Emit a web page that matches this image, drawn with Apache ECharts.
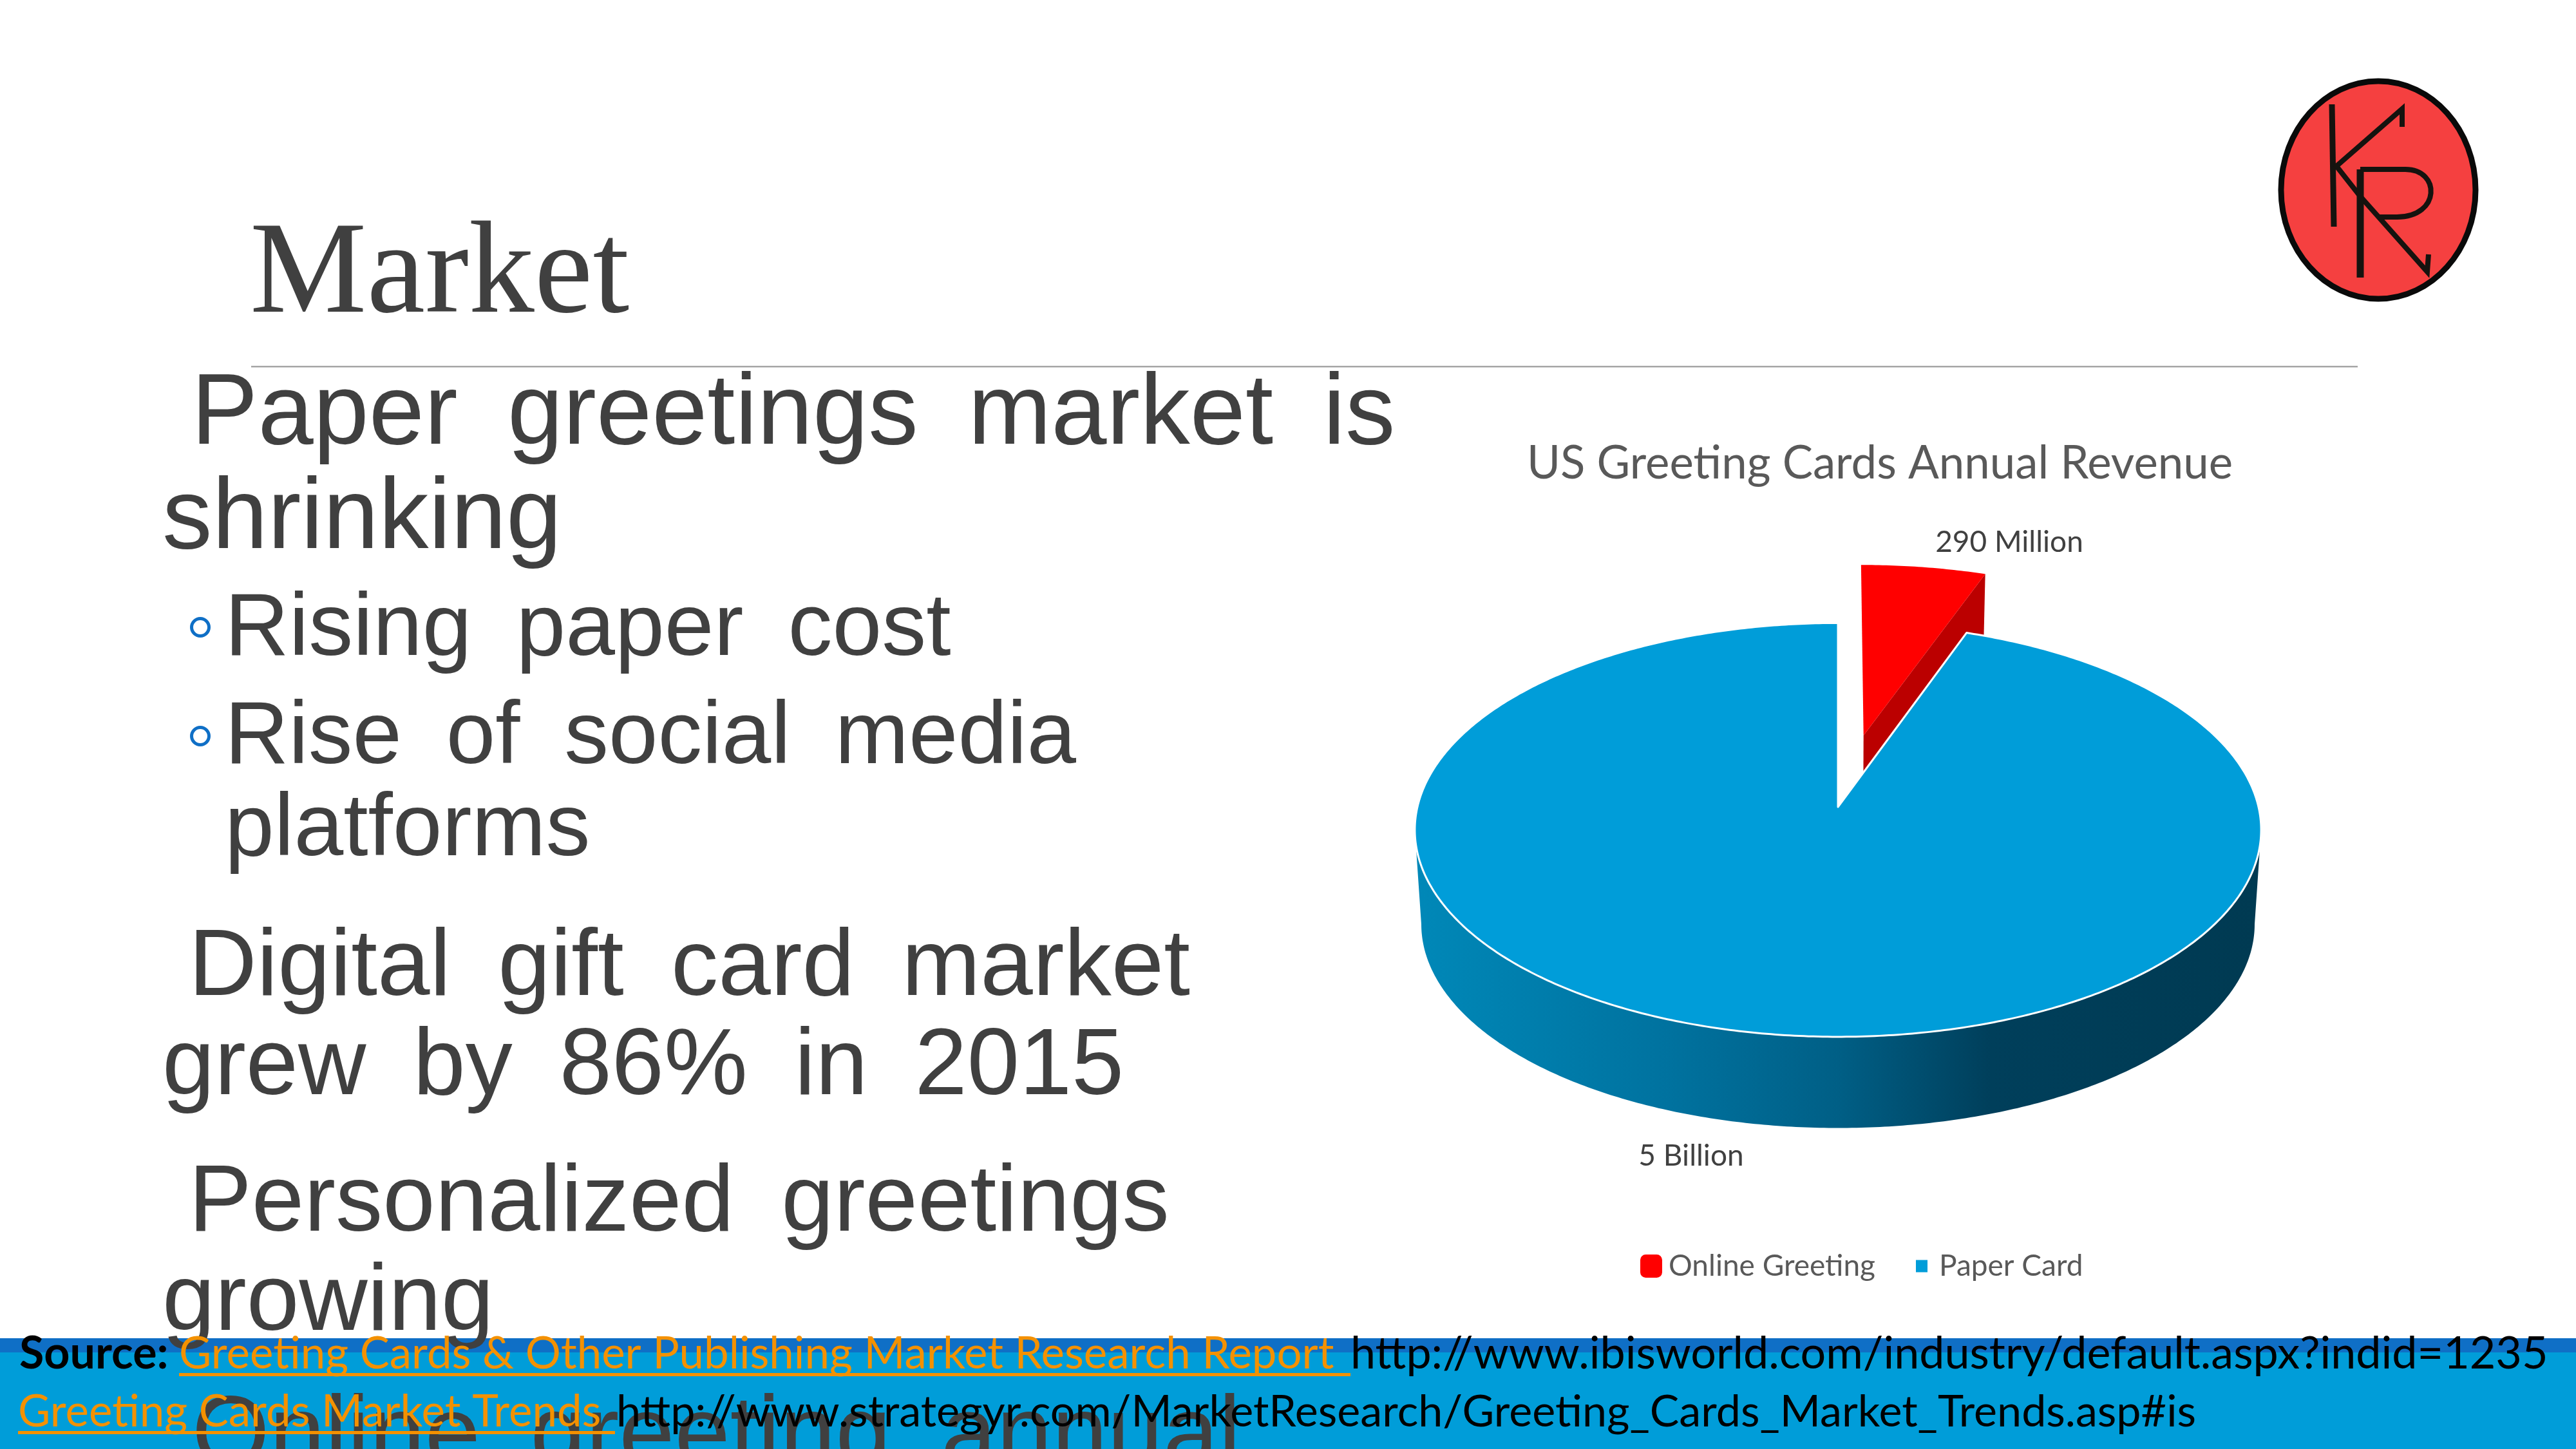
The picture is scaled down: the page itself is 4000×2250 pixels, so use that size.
<!DOCTYPE html>
<html><head><meta charset="utf-8">
<style>html,body{margin:0;padding:0;background:#fff}#c{width:4000px;height:2250px}</style>
<script src="https://cdn.jsdelivr.net/npm/echarts@6/dist/echarts.min.js"></script>
</head><body><div id="c"></div>
<script>
// ---- data ----
const categories = ['Online Greeting', 'Paper Card'];
const revenueMillions = [290, 5000];
const dataLabels = ['290 Million', '5 Billion'];
const chartTitle = 'US Greeting Cards Annual Revenue';
const slideTitle = 'Market';
const EN = '\u2002';
const bodyLinesLarge = ['Paper greetings market is', 'shrinking'];
const bodyLinesSub = ['Rising paper cost', 'Rise of social media', 'platforms'];
const bodyLinesMid = ['Digital gift card market', 'grew by 86% in 2015', 'Personalized greetings', 'growing', 'Online greeting annual'];
const sourceLabel = 'Source:';
const sourceLinks = ['Greeting Cards & Other Publishing Market Research Report', 'Greeting Cards Market Trends'];
const sourceUrls = ['http://www.ibisworld.com/industry/default.aspx?indid=1235', 'http://www.strategyr.com/MarketResearch/Greeting_Cards_Market_Trends.asp#is'];

// ---- styles / layout ----
const UI_FONT = 'Lato';
const TEXT = '#404040', RED = '#ff0000', RED_DARK = '#bb0000', BLUE = '#009DD9', STRIP = '#0F6FC6', LINK = '#F49100';
const top_ = {cx: 2854, cy: 1253, a: 653, b: 317.3};
const bot_ = {cx: 2854, cy: 1400, a: 643, b: 312.5};
const PERSPECTIVE = 0.111, EXPLODE = 0.369;
const project = (p, u, v) => { const d = 1 + PERSPECTIVE * v; return [p.cx + p.a * u / d, p.cy - p.b * v / d]; };
const total = revenueMillions.reduce((s, x) => s + x, 0);
const TAU = Math.PI * 2;
function arcPoints(p, t0, t1, ou, ov) {
  const n = Math.max(2, Math.ceil(Math.abs(t1 - t0) / 0.01)), pts = [];
  for (let i = 0; i <= n; i++) { const t = t0 + (t1 - t0) * i / n; pts.push(project(p, ou + Math.sin(t), ov + Math.cos(t))); }
  return pts;
}
const wallFill = {type: 'linear', x: 0, y: 0, x2: 1, y2: 0, colorStops: [
  {offset: 0, color: '#0088b8'}, {offset: .3, color: '#00729f'}, {offset: .5, color: '#005f86'},
  {offset: .68, color: '#003f5b'}, {offset: 1, color: '#003a52'}]};
const labelAnchors = [[3120, 842], [2626, 1795]];

function renderOnline(params, api) {
  const share = api.value(0) / total, t1 = share * TAU, mid = t1 / 2;
  const ou = Math.sin(mid) * EXPLODE, ov = Math.cos(mid) * EXPLODE;
  const apexT = project(top_, ou, ov), apexB = project(bot_, ou, ov);
  const rim = arcPoints(top_, 0, t1, ou, ov);
  const rimEndB = project(bot_, ou + Math.sin(t1), ov + Math.cos(t1));
  return {type: 'group', silent: true, children: [
    {type: 'polygon', shape: {points: [apexT, rim[rim.length - 1], rimEndB, apexB]}, style: {fill: RED_DARK}},
    {type: 'polygon', shape: {points: [apexT].concat(rim)}, style: {fill: RED}},
    {type: 'text', style: {text: dataLabels[0], x: labelAnchors[0][0], y: labelAnchors[0][1], align: 'center', verticalAlign: 'middle', font: '46px ' + UI_FONT, fill: TEXT}}
  ]};
}
function renderPaper(params, api) {
  const share = api.value(0) / total, t0 = (1 - share) * TAU;
  const widest = Math.acos(-PERSPECTIVE);
  const wall = arcPoints(top_, widest, TAU - widest, 0, 0).concat(arcPoints(bot_, TAU - widest, widest, 0, 0));
  const surface = [project(top_, 0, 0)].concat(arcPoints(top_, t0, TAU, 0, 0));
  return {type: 'group', silent: true, children: [
    {type: 'polygon', shape: {points: wall}, style: {fill: wallFill}},
    {type: 'polygon', shape: {points: surface}, style: {fill: BLUE, stroke: '#fff', lineWidth: 3, lineJoin: 'round'}},
    {type: 'text', style: {text: dataLabels[1], x: labelAnchors[1][0], y: labelAnchors[1][1], align: 'center', verticalAlign: 'middle', font: '46px ' + UI_FONT, fill: TEXT}}
  ]};
}

// slide text
const spaced = s => s.split(' ').join(EN);
const mid = (base, size) => base - 0.3465 * size;
const sans = (size, w) => (w || '') + ' ' + size + 'px "Liberation Sans"';
function bodyText(text, x, base, size) {
  return {type: 'text', z: 5, style: {text: spaced(text), x, y: mid(base, size), font: sans(size), fill: TEXT, verticalAlign: 'middle'}};
}
function uiText(text, x, base, size, fill, weight) {
  return {type: 'text', z: 10, style: {text, x, y: base - 0.3 * size, font: (weight || '') + ' ' + size + 'px ' + UI_FONT, fill, verticalAlign: 'middle'}};
}
const rect = (x, y, w, h, fill, z) => ({type: 'rect', z, shape: {x, y, width: w, height: h}, style: {fill}});
const INK = '#15130f';
const stroke = (points, lw) => ({type: 'polyline', z: 6, shape: {points}, style: {stroke: INK, lineWidth: lw, fill: 'none'}});
const ring = (x, y) => ({type: 'circle', z: 5, shape: {cx: x, cy: y, r: 13.5}, style: {fill: 'none', stroke: STRIP, lineWidth: 5}});

const graphics = [
  rect(0, 2078, 4000, 22, STRIP, 1), rect(0, 2100, 4000, 150, BLUE, 1),
  rect(390, 568, 3271, 2.5, '#a6a6a6', 1),
  {type: 'text', z: 5, style: {text: slideTitle, x: 388, y: mid(501, 204), font: '204px "Liberation Serif"', fill: TEXT, verticalAlign: 'middle'}},
  bodyText(bodyLinesLarge[0], 297, 700, 155), bodyText(bodyLinesLarge[1], 252, 862, 155),
  ring(311, 974), bodyText(bodyLinesSub[0], 349, 1027, 138),
  ring(311, 1143), bodyText(bodyLinesSub[1], 349, 1195, 137.5), bodyText(bodyLinesSub[2], 349, 1338, 138),
  bodyText(bodyLinesMid[0], 293, 1555, 146.5), bodyText(bodyLinesMid[1], 252, 1709, 146),
  bodyText(bodyLinesMid[2], 293, 1921, 146.5), bodyText(bodyLinesMid[3], 252, 2075, 147),
  bodyText(bodyLinesMid[4], 298, 2287, 155),
  uiText(sourceLabel, 30, 2123, 70, '#000', 'bold'),
  uiText(sourceLinks[0], 278, 2123, 69, LINK), rect(278, 2132, 1819, 5, LINK, 9),
  uiText(sourceUrls[0], 2097, 2123, 70, '#000'),
  uiText(sourceLinks[1], 28, 2213, 69, LINK), rect(28, 2222, 927, 5, LINK, 9),
  uiText(sourceUrls[1], 957, 2213, 68.2, '#000'),
  // logo
  {type: 'ellipse', z: 5, shape: {cx: 3693, cy: 295, rx: 151, ry: 169}, style: {fill: '#f54040', stroke: '#0a0a0a', lineWidth: 9}},
  stroke([[3621, 162], [3624, 352]], 9),
  stroke([[3730, 197], [3730, 169], [3628, 258], [3665, 305], [3769, 422], [3771, 395]], 8),
  stroke([[3665, 431], [3665, 263]], 11),
  stroke([[3665, 263], [3735, 263]], 8),
  {type: 'bezierCurve', z: 6, shape: {x1: 3735, y1: 263, cpx1: 3790, cpy1: 263, cpx2: 3790, cpy2: 337, x2: 3722, y2: 337}, style: {fill: 'none', stroke: INK, lineWidth: 8}},
  stroke([[3722, 337], [3692, 337]], 8)
];

const legendText = pad => ({fontFamily: UI_FONT, fontSize: 46, color: '#595959', padding: [0, 0, 0, pad]});
const chart = echarts.init(document.getElementById('c'), null, {renderer: 'canvas', width: 4000, height: 2250});
chart.setOption({
  animation: false,
  backgroundColor: '#fff',
  title: {text: chartTitle, left: 2371, top: 685, padding: 0, textStyle: {fontFamily: UI_FONT, fontWeight: 'normal', fontSize: 70.8, color: '#595959'}},
  legend: [
    {selectedMode: false, textStyle: legendText(5), data: [{name: categories[0], icon: 'roundRect'}], left: 2547, top: 1943, itemWidth: 34, itemHeight: 36, padding: 0},
    {selectedMode: false, textStyle: legendText(13), data: [{name: categories[1], icon: 'rect'}], left: 2975, top: 1943, itemWidth: 18, itemHeight: 19, padding: 0}
  ],
  graphic: {elements: graphics},
  series: [
    {type: 'custom', name: categories[0], coordinateSystem: 'none', renderItem: renderOnline, data: [[revenueMillions[0]]], itemStyle: {color: RED}, z: 2},
    {type: 'custom', name: categories[1], coordinateSystem: 'none', renderItem: renderPaper, data: [[revenueMillions[1]]], itemStyle: {color: BLUE}, z: 3}
  ]
});
</script></body></html>
